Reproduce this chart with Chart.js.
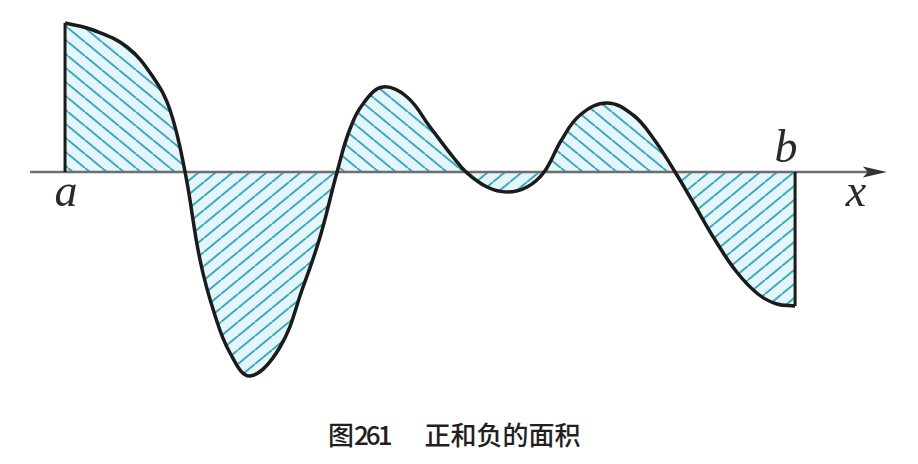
<!DOCTYPE html>
<html>
<head>
<meta charset="utf-8">
<script src="https://cdn.jsdelivr.net/npm/chart.js@4"></script>
<style>
  html, body { margin: 0; padding: 0; background: #ffffff; }
  #wrap { position: relative; width: 918px; height: 464px; overflow: hidden; background: #fff; }
  #box { position: absolute; left: 0; top: 0; width: 918px; height: 410px; }
  #caption { position: absolute; left: 328px; top: 417px; text-align: left;
    font-family: "Noto Sans CJK SC", "Noto Sans", sans-serif; font-weight: 500; font-size: 26px;
    color: #231f20; line-height: 34px; white-space: pre; }
  #caption .num { letter-spacing: -3px; margin-right: 9px; }
</style>
</head>
<body>
<div id="wrap">
  <div id="box"><canvas id="c"></canvas></div>
  <div id="caption">图<span class="num">261</span>　正和负的面积</div>
</div>
<script>
// ---- data (x: a = 0, b = 10; y: axis = 0) ----
const xValues = [0, 0.384, 0.849, 1.205, 1.438, 1.644, 1.849, 2.050, 2.260, 2.534, 2.945, 3.260, 3.493, 3.726, 3.900, 4.100, 4.356, 4.685, 5.000, 5.315, 5.493, 5.781, 6.055, 6.329, 6.562, 6.800, 7.055, 7.425, 7.781, 8.055, 8.356, 8.600, 8.900, 9.200, 9.500, 9.750, 10];
const yValues = [2.98, 2.84, 2.50, 1.90, 1.24, 0, -1.76, -2.85, -3.62, -4.08, -3.50, -2.30, -1.30, 0, 0.85, 1.40, 1.70, 1.50, 0.90, 0.30, 0, -0.30, -0.40, -0.30, 0, 0.64, 1.14, 1.38, 1.14, 0.68, 0, -0.60, -1.35, -2.00, -2.45, -2.64, -2.68];
const boundLabels = ['a', 'b'];
const boundX = [0, 10];
const axisRange = [-0.52, 11.12];
const axisLabel = 'x';

const curve = xValues.map((x, i) => ({ x: x, y: yValues[i] }));

function makeHatch(down) {
  const W = 17, H = 14;
  const cv = document.createElement('canvas');
  cv.width = W; cv.height = H;
  const g = cv.getContext('2d');
  g.fillStyle = '#e4f6f9';
  g.fillRect(0, 0, W, H);
  g.strokeStyle = '#3ea8bf';
  g.lineWidth = 2;
  for (const off of [-W, 0, W]) {
    g.beginPath();
    if (down) { g.moveTo(off, 0); g.lineTo(off + W, H); }
    else { g.moveTo(off, H); g.lineTo(off + W, 0); }
    g.stroke();
  }
  return g.createPattern(cv, 'repeat');
}

const ctx = document.getElementById('c').getContext('2d');
const posPattern = makeHatch(true);
const negPattern = makeHatch(false);

const decor = {
  id: 'decor',
  afterDatasetsDraw(chart) {
    const c = chart.ctx, xs = chart.scales.x, ys = chart.scales.y;
    const y0 = ys.getPixelForValue(0);
    const xe = xs.getPixelForValue(axisRange[1]);
    c.save();
    // arrow head
    c.fillStyle = '#333333';
    c.beginPath();
    c.moveTo(xe + 10, y0);
    c.lineTo(xe - 14, y0 - 5.5);
    c.lineTo(xe - 9, y0);
    c.lineTo(xe - 14, y0 + 5.5);
    c.closePath();
    c.fill();
    // labels
    c.fillStyle = '#2a2a2a';
    c.font = 'italic 46px "Liberation Serif", "DejaVu Serif", serif';
    c.textAlign = 'center';
    c.textBaseline = 'alphabetic';
    c.fillText(boundLabels[0], xs.getPixelForValue(boundX[0]) + 1, y0 + 34);
    c.fillText(boundLabels[1], xs.getPixelForValue(boundX[1]) - 9, y0 - 10);
    c.fillText(axisLabel, xe - 21, y0 + 34);
    c.restore();
  }
};

new Chart(ctx, {
  type: 'line',
  data: {
    datasets: [
      {
        data: curve,
        borderColor: '#1b1b1b',
        borderWidth: 3.5,
        pointRadius: 0,
        tension: 0.4,
        fill: { target: 'origin', above: posPattern, below: negPattern }
      },
      {
        data: [{ x: boundX[0], y: 0 }, { x: boundX[0], y: yValues[0] }],
        borderColor: '#1b1b1b', borderWidth: 3, pointRadius: 0, fill: false
      },
      {
        data: [{ x: boundX[1], y: 0 }, { x: boundX[1], y: yValues[yValues.length - 1] }],
        borderColor: '#1b1b1b', borderWidth: 3, pointRadius: 0, fill: false
      },
      {
        data: [{ x: axisRange[0], y: 0 }, { x: axisRange[1], y: 0 }],
        borderColor: '#6e6e6e', borderWidth: 2.6, pointRadius: 0, fill: false
      }
    ]
  },
  options: {
    responsive: true,
    maintainAspectRatio: false,
    animation: false,
    events: [],
    layout: { padding: { left: 30, right: 28, top: 10, bottom: 10 } },
    scales: {
      x: { type: 'linear', min: -0.48, max: 11.3, display: false },
      y: { type: 'linear', min: -4.56, max: 3.24, display: false }
    },
    plugins: {
      legend: { display: false },
      tooltip: { enabled: false },
      filler: { drawTime: 'beforeDatasetsDraw' }
    }
  },
  plugins: [decor]
});
</script>
</body>
</html>
